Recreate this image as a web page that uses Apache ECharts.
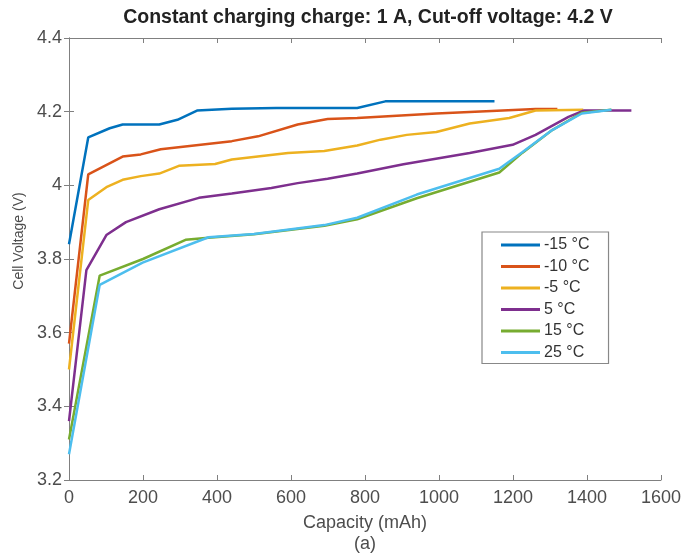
<!DOCTYPE html>
<html>
<head>
<meta charset="utf-8">
<script src="https://cdn.jsdelivr.net/npm/echarts@6/dist/echarts.min.js"></script>
<style>html,body{margin:0;padding:0;background:#fff}#c{width:684px;height:560px}</style>
</head>
<body>
<div id="c"></div>
<script>
// Data
const seriesNames = ['-15 °C', '-10 °C', '-5 °C', '5 °C', '15 °C', '25 °C'];
const xTicks = [0, 200, 400, 600, 800, 1000, 1200, 1400, 1600];
const yTicks = [3.2, 3.4, 3.6, 3.8, 4.0, 4.2, 4.4];

const capM15 = [0, 52, 110, 145, 244, 293, 346, 440, 560, 779, 855, 1150];
const volM15 = [3.84, 4.13, 4.155, 4.165, 4.165, 4.178, 4.203, 4.208, 4.21, 4.21, 4.228, 4.228];

const capM10 = [0, 52, 145, 194, 248, 440, 511, 618, 699, 779, 993, 1261, 1320];
const volM10 = [3.57, 4.03, 4.078, 4.084, 4.098, 4.12, 4.133, 4.165, 4.18, 4.183, 4.195, 4.207, 4.207];

const capM5 = [0, 52, 101, 145, 194, 244, 297, 395, 440, 592, 690, 779, 842, 913, 993, 1083, 1190, 1261, 1390];
const volM5 = [3.50, 3.96, 3.995, 4.015, 4.025, 4.032, 4.053, 4.058, 4.07, 4.088, 4.093, 4.108, 4.124, 4.137, 4.145, 4.168, 4.183, 4.203, 4.205];

const capP5 = [0, 47, 101, 154, 244, 351, 440, 547, 618, 699, 779, 904, 1083, 1199, 1261, 1350, 1391, 1520];
const volP5 = [3.36, 3.77, 3.865, 3.9, 3.935, 3.966, 3.978, 3.993, 4.006, 4.018, 4.032, 4.057, 4.088, 4.11, 4.137, 4.186, 4.203, 4.203];

const capP15 = [0, 83, 200, 315, 377, 500, 690, 779, 940, 1163, 1225, 1306, 1386, 1466];
const volP15 = [3.31, 3.755, 3.80, 3.852, 3.858, 3.867, 3.89, 3.908, 3.965, 4.035, 4.088, 4.15, 4.197, 4.205];

const capP25 = [0, 83, 199, 377, 500, 690, 779, 940, 1163, 1225, 1306, 1386, 1466];
const volP25 = [3.27, 3.73, 3.79, 3.859, 3.868, 3.892, 3.912, 3.975, 4.045, 4.09, 4.15, 4.195, 4.205];

const caps = [capM15, capM10, capM5, capP5, capP15, capP25];
const vols = [volM15, volM10, volM5, volP5, volP15, volP25];
const colors = ['#0072BD', '#D95319', '#EDB120', '#7E2F8E', '#77AC30', '#4DBEEE'];

const FONT = '"Liberation Sans", Arial, sans-serif';
const axisCol = '#808080';
const labelCol = '#4d4d4d';

const chart = echarts.init(document.getElementById('c'), null, {renderer: 'canvas'});

const series = seriesNames.map((n, i) => ({
  name: n,
  type: 'line',
  data: caps[i].map((c, k) => [c, vols[i][k]]),
  symbol: 'none',
  smooth: false,
  lineStyle: {width: 2.5, color: colors[i]},
  itemStyle: {color: colors[i]},
  z: 2 + i,
  xAxisIndex: 0,
  yAxisIndex: 0
}));

const baseX = {
  type: 'value', min: xTicks[0], max: xTicks[xTicks.length - 1], interval: 200,
  axisLine: {show: true, lineStyle: {color: axisCol, width: 1}},
  axisTick: {show: true, inside: true, length: 5, lineStyle: {color: axisCol}},
  splitLine: {show: false}
};
const baseY = {
  type: 'value', min: yTicks[0], max: yTicks[yTicks.length - 1], interval: 0.2,
  axisLine: {show: true, lineStyle: {color: axisCol, width: 1}},
  axisTick: {show: true, inside: true, length: 5, lineStyle: {color: axisCol}},
  splitLine: {show: false}
};

chart.setOption({
  animation: false,
  backgroundColor: '#ffffff',
  title: {
    text: 'Constant charging charge: 1 A, Cut-off voltage: 4.2 V',
    left: 363, top: 3, textAlign: 'center',
    textStyle: {fontFamily: FONT, fontSize: 19.5, fontWeight: 'bold', color: '#222'}
  },
  grid: {left: 69, right: 18, top: 38, bottom: 78, containLabel: false},
  legend: {
    data: seriesNames.map(n => ({name: n, icon: 'rect'})),
    orient: 'vertical',
    left: 482, top: 232,
    itemWidth: 39, itemHeight: 3, itemGap: 5.5,
    padding: [5, 19, 3, 19],
    borderColor: '#888', borderWidth: 1.2,
    backgroundColor: '#fff',
    textStyle: {fontFamily: FONT, fontSize: 16, lineHeight: 16, color: '#333', padding: [0, 0, 0, -1]}
  },
  xAxis: [
    Object.assign({}, baseX, {
      position: 'bottom',
      axisLabel: {show: true, color: labelCol, fontFamily: FONT, fontSize: 18, margin: 9,
        formatter: v => String(v)},
      name: 'Capacity (mAh)\n(a)', nameLocation: 'middle', nameGap: 33,
      nameTextStyle: {fontFamily: FONT, fontSize: 18, color: labelCol, lineHeight: 21, verticalAlign: 'top'}
    }),
    Object.assign({}, baseX, {position: 'top', axisLabel: {show: false}})
  ],
  yAxis: [
    Object.assign({}, baseY, {
      position: 'left',
      axisLabel: {show: true, color: labelCol, fontFamily: FONT, fontSize: 18, margin: 7,
        formatter: v => String(Math.round(v * 10) / 10)},
      name: 'Cell Voltage (V)', nameLocation: 'middle', nameGap: 40,
      nameTextStyle: {fontFamily: FONT, fontSize: 14, color: labelCol, padding: [0, 0, 0, 36]}
    }),
    Object.assign({}, baseY, {position: 'right', axisLabel: {show: false}})
  ],
  series: series
});
</script>
</body>
</html>
